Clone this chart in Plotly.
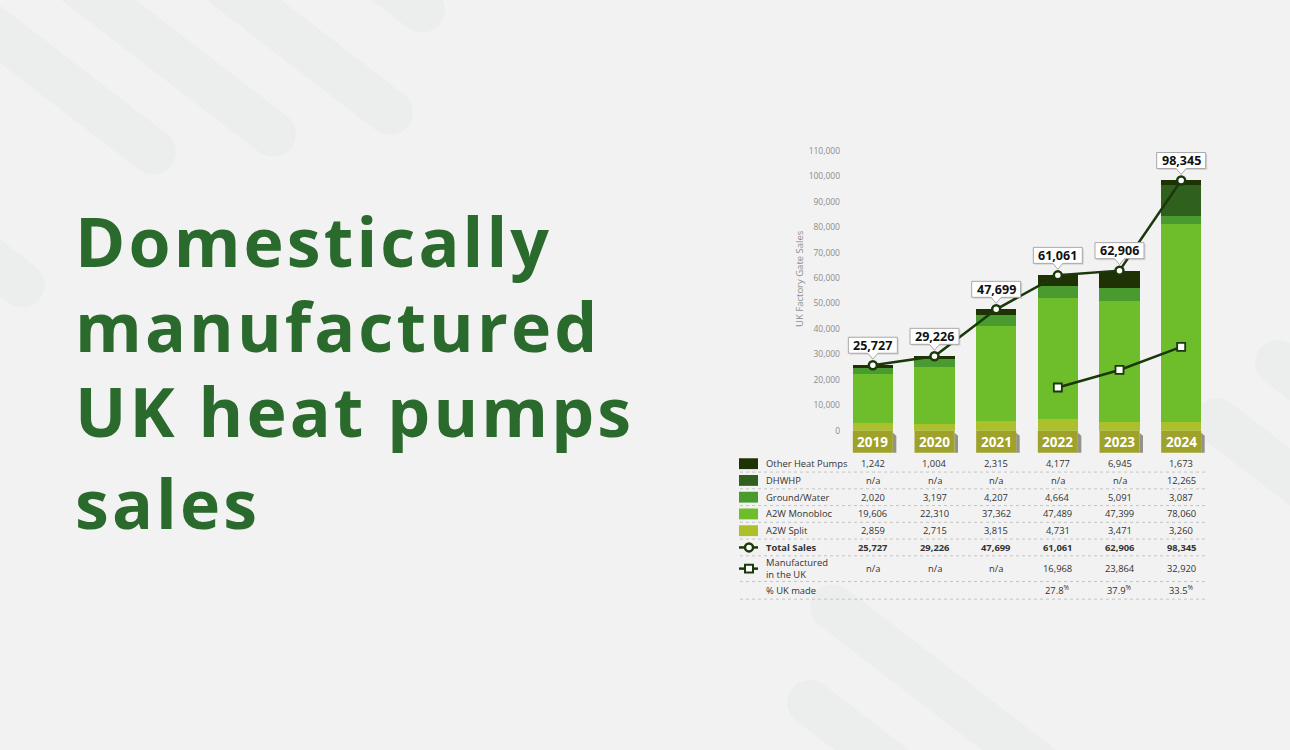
import math
import plotly.graph_objects as go

# ---------------------------------------------------------------- data
years = ["2019", "2020", "2021", "2022", "2023", "2024"]
other_hp = [1242, 1004, 2315, 4177, 6945, 1673]
dhwhp = [None, None, None, None, None, 12265]
ground_water = [2020, 3197, 4207, 4664, 5091, 3087]
a2w_monobloc = [19606, 22310, 37362, 47489, 47399, 78060]
a2w_split = [2859, 2715, 3815, 4731, 3471, 3260]
total_sales = [25727, 29226, 47699, 61061, 62906, 98345]
made_in_uk = [None, None, None, 16968, 23864, 32920]

y_ticks = list(range(0, 110001, 10000))

title_lines = ["Domestically", "manufactured", "UK heat pumps", "sales"]

# ---------------------------------------------------------------- style
W, H = 1290, 750
BG = "#f2f2f2"
STRIPE = "#eceeed"
TITLE_GREEN = "#2a6a2c"
LINE_DARK = "#1b380b"
C_OTHER = "#1e3203"
C_DHWHP = "#30601e"
C_GROUND = "#4a9b2f"
C_MONO = "#6dbe2a"
C_SPLIT = "#abc02a"
C_YEAR = "#9ea12a"
FONT = "Open Sans"

PLOT_TOP, PLOT_BASE = 147, 431      # pixel rows of the y-axis ends


def px(x):
    return x / W


def py(y):
    return 1 - y / H


fig = go.Figure()

# stacked bars, bottom to top
series = [
    ("A2W Split", a2w_split, C_SPLIT),
    ("A2W Monobloc", a2w_monobloc, C_MONO),
    ("Ground/Water", ground_water, C_GROUND),
    ("DHWHP", dhwhp, C_DHWHP),
    ("Other Heat Pumps", other_hp, C_OTHER),
]
xs = list(range(len(years)))
for name, vals, col in series:
    fig.add_trace(go.Bar(
        x=xs, y=vals, name=name, marker=dict(color=col, line=dict(width=0)),
        width=0.65, showlegend=False, hoverinfo="skip",
    ))

fig.add_trace(go.Scatter(
    x=xs, y=total_sales, mode="lines+markers", showlegend=False,
    line=dict(color=LINE_DARK, width=2.5),
    marker=dict(symbol="circle", size=8, color="white",
                line=dict(color=LINE_DARK, width=2.5)),
    hoverinfo="skip", cliponaxis=False,
))
fig.add_trace(go.Scatter(
    x=xs, y=made_in_uk, mode="lines+markers", showlegend=False,
    line=dict(color=LINE_DARK, width=2.5),
    marker=dict(symbol="square", size=8, color="white",
                line=dict(color=LINE_DARK, width=1.8)),
    hoverinfo="skip", cliponaxis=False,
))

shapes = []
annotations = []


# ------------------------------------------------ background stripes
def capsule(x0, y0, x1, y1, r, n=14):
    ang = math.atan2(y1 - y0, x1 - x0)
    pts = []
    for k in range(n + 1):
        a = ang + math.pi / 2 + math.pi * k / n
        pts.append((x0 + r * math.cos(a), y0 + r * math.sin(a)))
    for k in range(n + 1):
        a = ang - math.pi / 2 + math.pi * k / n
        pts.append((x1 + r * math.cos(a), y1 + r * math.sin(a)))
    d = "M " + " L ".join(f"{px(a):.5f},{py(b):.5f}" for a, b in pts) + " Z"
    return d


dx, dy = 1.0, 0.78
nrm = math.hypot(dx, dy)
dx, dy = dx / nrm, dy / nrm
for ex, ey in [(153, 148), (273, 130), (390, 108), (422, 4), (22, 283)]:
    shapes.append(dict(type="path", xref="paper", yref="paper", layer="below",
                       path=capsule(ex - 700 * dx, ey - 700 * dy, ex, ey, 23),
                       fillcolor=STRIPE, line=dict(width=0)))
for ex, ey in [(833, 610), (810, 707), (1217, 421), (1278, 362)]:
    shapes.append(dict(type="path", xref="paper", yref="paper", layer="below",
                       path=capsule(ex, ey, ex + 700 * dx, ey + 700 * dy, 23),
                       fillcolor=STRIPE, line=dict(width=0)))

# ------------------------------------------------ title (tracked-out letters)
gap = '<span style="font-size:31px">\u200a</span>'
baselines = [264, 350.5, 436.5, 530.0]
for line, base in zip(title_lines, baselines):
    annotations.append(dict(
        xref="paper", yref="paper", x=px(73), y=py(base - 26.4),
        xanchor="left", yanchor="middle", showarrow=False,
        text=gap.join(line),
        font=dict(family=FONT, size=68, color=TITLE_GREEN, weight="bold"),
    ))

# ------------------------------------------------ value callouts
box = "M -24.5,12 L -5,12 L 0,6 L 5,12 L 24.5,12 L 24.5,28 L -24.5,28 Z"
shadow = "M -23,10.5 L 26,10.5 L 26,26.5 L -23,26.5 Z"
for i, v in enumerate(total_sales):
    common = dict(type="path", xref="x", yref="y", xsizemode="pixel",
                  ysizemode="pixel", xanchor=i, yanchor=v, layer="above")
    shapes.append(dict(common, path=shadow, fillcolor="rgba(0,0,0,0.12)",
                       line=dict(width=0)))
    shapes.append(dict(common, path=box, fillcolor="white",
                       line=dict(color="#a8a8a8", width=1)))
    annotations.append(dict(
        xref="x", yref="y", x=i, y=v, yshift=20, showarrow=False,
        text=f"<b>{v:,}</b>",
        font=dict(family=FONT, size=12.5, color="#111111"),
    ))

# ------------------------------------------------ year tabs (below the axis base)
base_paper = py(PLOT_BASE)
for i, yr in enumerate(years):
    common = dict(xref="x", yref="paper", xsizemode="pixel", ysizemode="pixel",
                  xanchor=i, yanchor=base_paper, layer="above")
    shapes.append(dict(common, type="path",
                       path="M 20,-2 L 23.5,-5 L 23.5,-22 L 20,-22 Z",
                       fillcolor="rgba(70,70,50,0.55)", line=dict(width=0)))
    shapes.append(dict(common, type="rect", x0=-20, x1=20, y0=0, y1=-22,
                       fillcolor=C_YEAR, line=dict(width=0)))
    annotations.append(dict(
        xref="x", yref="paper", x=i, y=base_paper, yshift=-11.5,
        yanchor="middle", showarrow=False,
        text=f"<b>{yr}</b>",
        font=dict(family=FONT, size=13.5, color="white"),
    ))

# ------------------------------------------------ y axis title
annotations.append(dict(
    xref="paper", yref="paper", x=px(800), y=py(277), textangle=-90,
    showarrow=False, text="UK Factory Gate Sales",
    font=dict(family=FONT, size=9.5, color="#8f8f8f"),
))

# ------------------------------------------------ data table
TXT = "#333333"
row_y = [464.5, 481.5, 498.5, 515.5, 532.5, 549.5, 571, 593]
sep_y = [473, 490, 507, 524, 541, 558, 584, 602]
for sy in sep_y:
    shapes.append(dict(type="line", xref="paper", yref="paper",
                       x0=px(740), x1=px(1205), y0=py(sy), y1=py(sy),
                       line=dict(color="#c4c4c4", width=1, dash="dot")))

table_rows = [
    ("Other Heat Pumps", other_hp, C_OTHER),
    ("DHWHP", dhwhp, C_DHWHP),
    ("Ground/Water", ground_water, C_GROUND),
    ("A2W Monobloc", a2w_monobloc, C_MONO),
    ("A2W Split", a2w_split, C_SPLIT),
]


def fmt(v):
    return "n/a" if v is None else f"{v:,}"


def label(x, y, text, size=9.4, bold=False, anchor="left"):
    annotations.append(dict(
        xref="paper", yref="paper", x=px(x), y=py(y), xanchor=anchor,
        yanchor="middle", showarrow=False, align="left",
        text=f"<b>{text}</b>" if bold else text,
        font=dict(family=FONT, size=size, color=TXT),
    ))


def cell(i, y, text, bold=False):
    annotations.append(dict(
        xref="x", yref="paper", x=i, y=py(y), xanchor="center",
        yanchor="middle", showarrow=False,
        text=f"<b>{text}</b>" if bold else text,
        font=dict(family=FONT, size=9.4, color=TXT),
    ))


for (name, vals, col), ry in zip(table_rows, row_y):
    shapes.append(dict(type="rect", xref="paper", yref="paper",
                       x0=px(739), x1=px(758), y0=py(ry - 5.5), y1=py(ry + 5.5),
                       fillcolor=col, line=dict(width=0)))
    label(764, ry, name)
    for i, v in enumerate(vals):
        cell(i, ry, fmt(v))

# Total sales row with line + circle icon
ry = row_y[5]
shapes.append(dict(type="line", xref="paper", yref="paper",
                   x0=px(739), x1=px(758), y0=py(ry), y1=py(ry),
                   line=dict(color=LINE_DARK, width=2.5)))
shapes.append(dict(type="circle", xref="paper", yref="paper",
                   x0=px(745), x1=px(753), y0=py(ry - 4), y1=py(ry + 4),
                   fillcolor="white", line=dict(color=LINE_DARK, width=2.5)))
label(764, ry, "Total Sales", bold=True)
for i, v in enumerate(total_sales):
    cell(i, ry, fmt(v), bold=True)

# Manufactured in the UK row with line + square icon
ry = row_y[6]
shapes.append(dict(type="line", xref="paper", yref="paper",
                   x0=px(739), x1=px(758), y0=py(ry), y1=py(ry),
                   line=dict(color=LINE_DARK, width=2.5)))
shapes.append(dict(type="rect", xref="paper", yref="paper",
                   x0=px(745), x1=px(753), y0=py(ry - 4), y1=py(ry + 4),
                   fillcolor="white", line=dict(color=LINE_DARK, width=2)))
label(764, ry, "Manufactured<br>in the UK")
for i, v in enumerate(made_in_uk):
    cell(i, ry, fmt(v))

# share made in the UK
ry = row_y[7]
label(764, ry, "% UK made")
for i, (m, t) in enumerate(zip(made_in_uk, total_sales)):
    if m is not None:
        cell(i, ry, f"{100 * m / t:.1f}<sup>%</sup>")

# ------------------------------------------------ layout
fig.update_layout(
    width=W, height=H, margin=dict(l=0, r=0, t=0, b=0),
    paper_bgcolor=BG, plot_bgcolor="rgba(0,0,0,0)",
    barmode="stack", bargap=0.35,
    font=dict(family=FONT),
    xaxis=dict(domain=[px(842), px(1212)], range=[-0.5, 5.5],
               showticklabels=False, showgrid=False, zeroline=False,
               showline=False, ticks="", fixedrange=True),
    yaxis=dict(domain=[py(PLOT_BASE), py(PLOT_TOP)], range=[0, 110000],
               tickvals=y_ticks, tickformat=",", showgrid=False,
               zeroline=False, showline=False, ticks="",
               ticklabelstandoff=1,
               tickfont=dict(family=FONT, size=8.5, color="#8c8c8c"),
               fixedrange=True),
    shapes=shapes, annotations=annotations,
    showlegend=False,
)

fig.write_html("out.html")
